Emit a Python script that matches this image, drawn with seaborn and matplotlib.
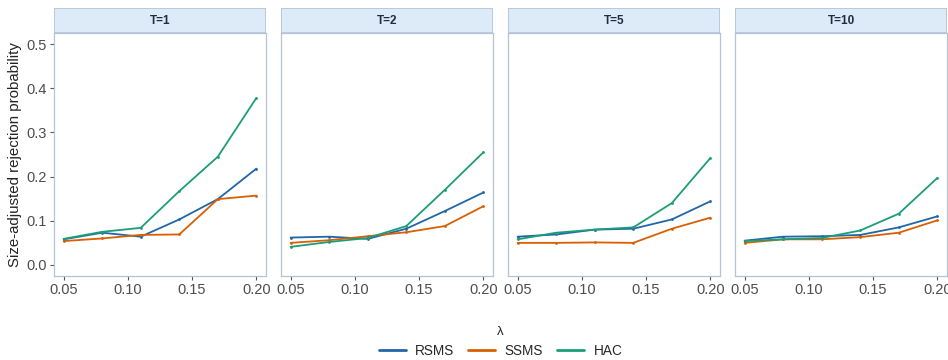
import matplotlib
matplotlib.use("Agg")
import matplotlib.pyplot as plt
from matplotlib.patches import Rectangle
from matplotlib.lines import Line2D
import seaborn as sns
import pandas as pd

lam = [0.05, 0.08, 0.11, 0.14, 0.17, 0.20]
panels = ["T=1", "T=2", "T=5", "T=10"]
methods = ["RSMS", "SSMS", "HAC"]

rsms = {
    "T=1":  [0.058, 0.073, 0.064, 0.103, 0.149, 0.218],
    "T=2":  [0.062, 0.064, 0.059, 0.082, 0.122, 0.164],
    "T=5":  [0.064, 0.069, 0.080, 0.082, 0.103, 0.144],
    "T=10": [0.055, 0.064, 0.065, 0.068, 0.085, 0.110],
}
ssms = {
    "T=1":  [0.054, 0.060, 0.068, 0.069, 0.149, 0.157],
    "T=2":  [0.050, 0.056, 0.065, 0.074, 0.088, 0.133],
    "T=5":  [0.050, 0.050, 0.051, 0.050, 0.082, 0.107],
    "T=10": [0.050, 0.058, 0.058, 0.063, 0.073, 0.101],
}
hac = {
    "T=1":  [0.059, 0.075, 0.084, 0.167, 0.245, 0.378],
    "T=2":  [0.041, 0.052, 0.061, 0.088, 0.170, 0.255],
    "T=5":  [0.058, 0.073, 0.080, 0.085, 0.140, 0.242],
    "T=10": [0.054, 0.058, 0.061, 0.078, 0.116, 0.197],
}

colors = {"RSMS": "#2166A8", "SSMS": "#D95F02", "HAC": "#1B9E77"}

rows = []
for p in panels:
    for m, src in zip(methods, [rsms, ssms, hac]):
        for x, y in zip(lam, src[p]):
            rows.append({"panel": p, "method": m, "lam": x, "prob": y})
df = pd.DataFrame(rows)

sns.set_theme(style="white")
plt.rcParams["font.family"] = ["Liberation Sans", "DejaVu Sans"]

fig = plt.figure(figsize=(9.48, 3.6), dpi=100)
W, H = 948, 360
left0, pw, gap = 54, 212, 15
top, bottom = 33, 276
strip_h = 25
border = "#B4C3D6"
tick_c = "#4D4D4D"

for i, p in enumerate(panels):
    x0 = left0 + i * (pw + gap)
    ax = fig.add_axes([x0 / W, 1 - bottom / H, pw / W, (bottom - top) / H])
    sub = df[df["panel"] == p]
    sns.lineplot(data=sub, x="lam", y="prob", hue="method", hue_order=methods,
                 palette=colors, ax=ax, linewidth=1.3, marker="o",
                 markersize=2.0, markeredgewidth=0, legend=False)
    ax.set_xlim(0.0425, 0.2075)
    ax.set_ylim(-0.025, 0.525)
    ax.set_xticks([0.05, 0.10, 0.15, 0.20])
    ax.set_xticklabels(["0.05", "0.10", "0.15", "0.20"])
    ax.set_yticks([0.0, 0.1, 0.2, 0.3, 0.4, 0.5])
    if i == 0:
        ax.set_yticklabels(["0.0", "0.1", "0.2", "0.3", "0.4", "0.5"])
        ax.set_ylabel("Size-adjusted rejection probability", fontsize=10.8,
                      color="#222222", labelpad=3)
    else:
        ax.set_yticklabels([])
        ax.tick_params(axis="y", length=0)
        ax.set_ylabel("")
    ax.set_xlabel("")
    ax.tick_params(axis="both", direction="out", length=3, width=0.8,
                   color="#555555", labelsize=10.5, labelcolor=tick_c, pad=2,
                   bottom=True, left=(i == 0))
    for s in ax.spines.values():
        s.set_color(border)
        s.set_linewidth(0.9)
    ax.grid(False)
    # facet strip
    sax = fig.add_axes([x0 / W, 1 - top / H, pw / W, strip_h / H])
    sax.set_xlim(0, 1)
    sax.set_ylim(0, 1)
    sax.add_patch(Rectangle((0, 0), 1, 1, facecolor="#DDEAF8",
                            edgecolor=border, linewidth=1.2))
    sax.text(0.5, 0.48, p, ha="center", va="center", fontsize=8.5,
             fontweight="bold", color="#1F2D3D")
    sax.axis("off")

center_x = (left0 + 2 * pw + 1.5 * gap) / W
fig.text(center_x, 1 - 332 / H, "λ", ha="center",
         va="center", fontsize=9.5, color="#222222")

handles = [Line2D([0], [0], color=colors[m], lw=2) for m in methods]
fig.legend(handles, methods, loc="center", bbox_to_anchor=(center_x, 1 - 351 / H),
           ncol=3, frameon=False, fontsize=9.8, handlelength=2.0,
           columnspacing=1.0, handletextpad=0.7)

fig.savefig("out.png", dpi=100, facecolor="white")
